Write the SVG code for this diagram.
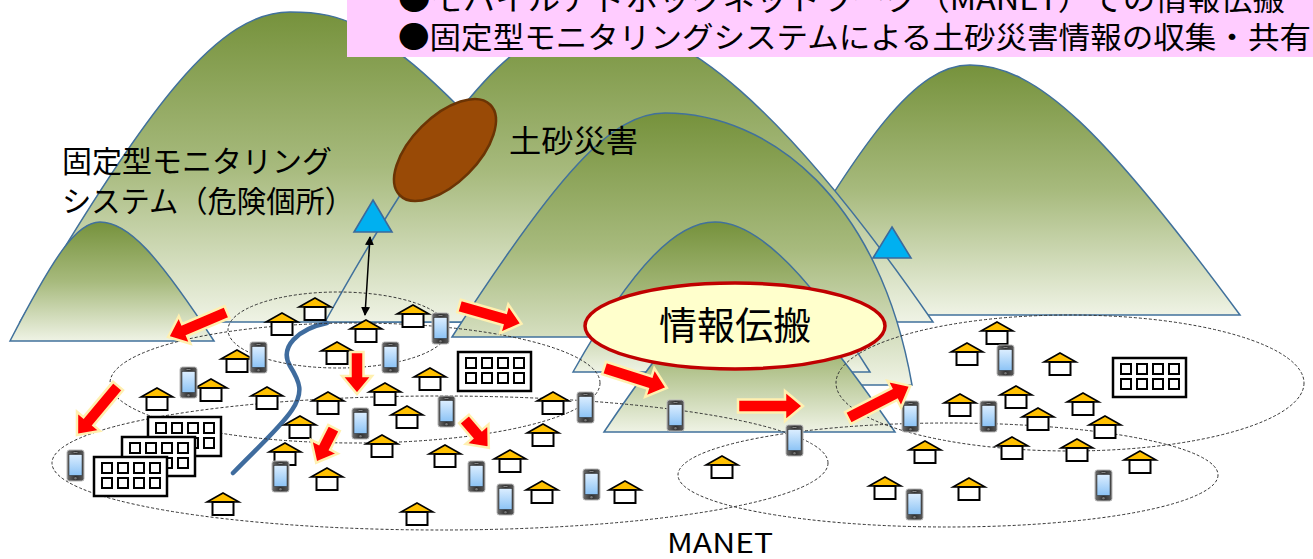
<svg xmlns="http://www.w3.org/2000/svg" xmlns:xlink="http://www.w3.org/1999/xlink" width="1313" height="559" viewBox="0 0 1313 559">
<defs>
<style>
.mtn{fill:url(#hill);stroke:#41719C;stroke-width:1.5}
.zone{fill:none;stroke:#333;stroke-width:1;stroke-dasharray:3 2}
.flow{fill:#FF0000;stroke:#FFF0B0;stroke-width:2.5;stroke-linejoin:miter}
.jp{font-family:"Noto Sans CJK JP","Noto Sans",sans-serif;fill:#000}
.sensor{fill:#00B0F0;stroke:#3B6A9C;stroke-width:1.6;stroke-linejoin:miter}
</style>
<linearGradient id="hill" x1="0" y1="0" x2="0" y2="1">
<stop offset="0" stop-color="#76923C"/>
<stop offset="0.5" stop-color="#A7BA7D"/>
<stop offset="1" stop-color="#EFF3E5"/>
</linearGradient>
<linearGradient id="phoneBody" x1="0" y1="0" x2="1" y2="0">
<stop offset="0" stop-color="#707070"/>
<stop offset="0.5" stop-color="#303030"/>
<stop offset="1" stop-color="#5a5a5a"/>
</linearGradient>
<linearGradient id="phoneScreen" x1="0" y1="0" x2="0" y2="1">
<stop offset="0" stop-color="#DCEEFF"/>
<stop offset="1" stop-color="#8CC3F5"/>
</linearGradient>
<marker id="tip" viewBox="0 0 10 10" refX="9" refY="5" markerWidth="6" markerHeight="6" orient="auto-start-reverse">
<path d="M0,0 L10,5 L0,10 Z" fill="#000"/>
</marker>
<g id="house">
<polygon points="0,0 16,9 -16,9" fill="#FFC000" stroke="#000" stroke-width="1.6"/>
<rect x="-10.5" y="9" width="21" height="13" fill="#fff" stroke="#000" stroke-width="2"/>
</g>
<g id="phone">
<rect x="0" y="0" width="17" height="31" rx="2.5" fill="url(#phoneBody)" stroke="#B8B8B8" stroke-width="1"/>
<rect x="2" y="4.5" width="13" height="21" fill="url(#phoneScreen)" stroke="#222" stroke-width="0.5"/>
<circle cx="8.5" cy="28.2" r="1.2" fill="#777"/>
<rect x="6.5" y="2" width="4" height="0.8" fill="#999"/>
</g>
<g id="bldg">
<rect x="0" y="0" width="73" height="39" fill="#fff" stroke="#000" stroke-width="2.5"/>
<g fill="#fff" stroke="#000" stroke-width="2">
<rect x="8" y="6" width="10" height="10"/><rect x="24" y="6" width="10" height="10"/><rect x="40" y="6" width="10" height="10"/><rect x="56" y="6" width="10" height="10"/>
<rect x="8" y="21" width="10" height="10"/><rect x="24" y="21" width="10" height="10"/><rect x="40" y="21" width="10" height="10"/><rect x="56" y="21" width="10" height="10"/>
</g>
</g>
</defs>

<rect width="1313" height="559" fill="#fff"/>

<!-- hills, back to front -->
<g id="mountains">
<path class="mtn" d="M20,322 C150,100 220,12 290,12 C320,12 338,16 360,27 C400,50 430,78 460,108 L620,322 Z"/>
<path class="mtn" d="M760,315 C865,132 917,65 970,65 C1037,65 1105,132 1240,315 Z"/>
<path class="mtn" d="M325,322 C480,43 540,22 600,22 C680,22 783,105 933,322 Z"/>
<path class="mtn" d="M10,341 C55,254 77,222 100,222 C128,222 157,254 214,341 Z"/>
<path class="mtn" d="M452,337 C558,173 612,113 665,113 C770,113 880,200 912,385 L700,385 L700,337 Z"/>
<path class="mtn" d="M573,372 C635,262 678,222 715,222 C754,222 805,268 870,372 Z"/>
<path class="mtn" d="M604,432 C676,325 712,285 748,285 C785,285 821,325 895,432 Z"/>
</g>

<!-- river -->
<path id="river" d="M327,323 C298,329 279,347 290,366 C300,382 304,392 292,410 C280,428 255,450 233,473" fill="none" stroke="#3F6C9E" stroke-width="4.5" stroke-linecap="round"/>

<!-- MANET coverage zones -->
<g id="zones">
<ellipse class="zone" cx="355" cy="383" rx="245" ry="60"/>
<ellipse class="zone" cx="338" cy="330" rx="110" ry="38"/>
<ellipse class="zone" cx="440" cy="463" rx="388" ry="67"/>
<ellipse class="zone" cx="1070" cy="383" rx="234" ry="68"/>
<ellipse class="zone" cx="948" cy="475" rx="270" ry="52"/>
</g>

<!-- landslide -->
<g id="landslide">
<ellipse cx="445" cy="150" rx="64" ry="33" transform="rotate(-45 445 150)" fill="#994A06" stroke="#6B3404" stroke-width="2.5"/>
</g>

<!-- monitoring stations -->
<g id="station-1"><polygon class="sensor" points="373,200 392,232 354,232"/></g>
<g id="station-2"><polygon class="sensor" points="892,227 911,258 873,258"/></g>

<!-- buildings -->
<g id="building-1"><use xlink:href="#bldg" x="148" y="417"/></g>
<g id="building-2"><use xlink:href="#bldg" x="122" y="437"/></g>
<g id="building-3"><use xlink:href="#bldg" x="94" y="457"/></g>
<g id="building-4"><use xlink:href="#bldg" x="458" y="352"/></g>
<g id="building-5"><use xlink:href="#bldg" x="1113" y="358"/></g>

<!-- houses -->
<g id="house-1"><use xlink:href="#house" x="315" y="298"/></g>
<g id="house-2"><use xlink:href="#house" x="282" y="313"/></g>
<g id="house-3"><use xlink:href="#house" x="413" y="305"/></g>
<g id="house-4"><use xlink:href="#house" x="366" y="320"/></g>
<g id="house-5"><use xlink:href="#house" x="337" y="342"/></g>
<g id="house-6"><use xlink:href="#house" x="237" y="350"/></g>
<g id="house-7"><use xlink:href="#house" x="211" y="379"/></g>
<g id="house-8"><use xlink:href="#house" x="157" y="388"/></g>
<g id="house-9"><use xlink:href="#house" x="267" y="387"/></g>
<g id="house-10"><use xlink:href="#house" x="328" y="392"/></g>
<g id="house-11"><use xlink:href="#house" x="385" y="383"/></g>
<g id="house-12"><use xlink:href="#house" x="430" y="368"/></g>
<g id="house-13"><use xlink:href="#house" x="407" y="406"/></g>
<g id="house-14"><use xlink:href="#house" x="300" y="416"/></g>
<g id="house-15"><use xlink:href="#house" x="285" y="443"/></g>
<g id="house-16"><use xlink:href="#house" x="223" y="493"/></g>
<g id="house-17"><use xlink:href="#house" x="382" y="435"/></g>
<g id="house-18"><use xlink:href="#house" x="327" y="468"/></g>
<g id="house-19"><use xlink:href="#house" x="445" y="445"/></g>
<g id="house-20"><use xlink:href="#house" x="510" y="450"/></g>
<g id="house-21"><use xlink:href="#house" x="543" y="424"/></g>
<g id="house-22"><use xlink:href="#house" x="553" y="392"/></g>
<g id="house-23"><use xlink:href="#house" x="542" y="481"/></g>
<g id="house-24"><use xlink:href="#house" x="625" y="481"/></g>
<g id="house-25"><use xlink:href="#house" x="417" y="503"/></g>
<g id="house-26"><use xlink:href="#house" x="722" y="456"/></g>
<g id="house-27"><use xlink:href="#house" x="997" y="322"/></g>
<g id="house-28"><use xlink:href="#house" x="967" y="343"/></g>
<g id="house-29"><use xlink:href="#house" x="1060" y="353"/></g>
<g id="house-30"><use xlink:href="#house" x="1016" y="386"/></g>
<g id="house-31"><use xlink:href="#house" x="960" y="394"/></g>
<g id="house-32"><use xlink:href="#house" x="1083" y="393"/></g>
<g id="house-33"><use xlink:href="#house" x="1038" y="408"/></g>
<g id="house-34"><use xlink:href="#house" x="1105" y="416"/></g>
<g id="house-35"><use xlink:href="#house" x="925" y="441"/></g>
<g id="house-36"><use xlink:href="#house" x="1012" y="437"/></g>
<g id="house-37"><use xlink:href="#house" x="1077" y="439"/></g>
<g id="house-38"><use xlink:href="#house" x="1140" y="451"/></g>
<g id="house-39"><use xlink:href="#house" x="885" y="477"/></g>
<g id="house-40"><use xlink:href="#house" x="969" y="478"/></g>

<!-- mobile terminals -->
<g id="phone-1"><use xlink:href="#phone" x="250" y="342"/></g>
<g id="phone-2"><use xlink:href="#phone" x="382" y="342"/></g>
<g id="phone-3"><use xlink:href="#phone" x="432" y="313"/></g>
<g id="phone-4"><use xlink:href="#phone" x="438" y="396"/></g>
<g id="phone-5"><use xlink:href="#phone" x="352" y="408"/></g>
<g id="phone-6"><use xlink:href="#phone" x="180" y="367"/></g>
<g id="phone-7"><use xlink:href="#phone" x="67" y="450"/></g>
<g id="phone-8"><use xlink:href="#phone" x="272" y="461"/></g>
<g id="phone-9"><use xlink:href="#phone" x="468" y="461"/></g>
<g id="phone-10"><use xlink:href="#phone" x="497" y="484"/></g>
<g id="phone-11"><use xlink:href="#phone" x="583" y="469"/></g>
<g id="phone-12"><use xlink:href="#phone" x="577" y="392"/></g>
<g id="phone-13"><use xlink:href="#phone" x="667" y="400"/></g>
<g id="phone-14"><use xlink:href="#phone" x="786" y="425"/></g>
<g id="phone-15"><use xlink:href="#phone" x="997" y="345"/></g>
<g id="phone-16"><use xlink:href="#phone" x="902" y="401"/></g>
<g id="phone-17"><use xlink:href="#phone" x="980" y="401"/></g>
<g id="phone-18"><use xlink:href="#phone" x="1095" y="470"/></g>
<g id="phone-19"><use xlink:href="#phone" x="906" y="489"/></g>

<!-- propagation arrows and sensor link -->
<g id="connectors">
<line x1="370" y1="237" x2="365" y2="315" stroke="#000" stroke-width="1.5" marker-start="url(#tip)" marker-end="url(#tip)"/>
<path class="flow" transform="translate(227,312) rotate(157)" d="M0,-6.5 L46,-6.5 L46,-15 L64,0 L46,15 L46,6.5 L0,6.5 Z"/>
<path class="flow" transform="translate(118,386) rotate(129.9)" d="M0,-6.5 L46,-6.5 L46,-15 L64,0 L46,15 L46,6.5 L0,6.5 Z"/>
<path class="flow" transform="translate(459,306) rotate(15.9)" d="M0,-6.5 L47,-6.5 L47,-15 L65,0 L47,15 L47,6.5 L0,6.5 Z"/>
<path class="flow" transform="translate(357,352) rotate(90)" d="M0,-6.5 L24,-6.5 L24,-15 L42,0 L24,15 L24,6.5 L0,6.5 Z"/>
<path class="flow" transform="translate(334,428) rotate(117.2)" d="M0,-6.5 L21,-6.5 L21,-15 L39,0 L21,15 L21,6.5 L0,6.5 Z"/>
<path class="flow" transform="translate(464,419) rotate(49.2)" d="M0,-6.5 L20,-6.5 L20,-15 L38,0 L20,15 L20,6.5 L0,6.5 Z"/>
<path class="flow" transform="translate(604,368) rotate(17.6)" d="M0,-6.5 L48,-6.5 L48,-15 L66,0 L48,15 L48,6.5 L0,6.5 Z"/>
<path class="flow" transform="translate(738,406)" d="M0,-6.5 L47,-6.5 L47,-15 L65,0 L47,15 L47,6.5 L0,6.5 Z"/>
<path class="flow" transform="translate(848,418) rotate(-27.3)" d="M0,-6.5 L52,-6.5 L52,-15 L70,0 L52,15 L52,6.5 L0,6.5 Z"/>
</g>

<!-- propagation callout -->
<g id="propagation-label">
<ellipse cx="735" cy="326" rx="150" ry="43" fill="#FFFFCC" stroke="#C00000" stroke-width="3.5"/>
<text class="jp" x="659" y="339" font-size="38" textLength="152" lengthAdjust="spacingAndGlyphs">情報伝搬</text>
</g>

<!-- labels -->
<g id="label-landslide"><text class="jp" x="509" y="152" font-size="31" textLength="129" lengthAdjust="spacingAndGlyphs">土砂災害</text></g>
<g id="label-monitoring">
<text class="jp" x="62" y="172" font-size="30" textLength="270" lengthAdjust="spacingAndGlyphs">固定型モニタリング</text>
<text class="jp" x="62" y="212" font-size="30" textLength="292" lengthAdjust="spacingAndGlyphs">システム（危険個所）</text>
</g>
<g id="label-manet"><text class="jp" x="667" y="553" font-size="27" textLength="106" lengthAdjust="spacingAndGlyphs">MANET</text></g>

<!-- headline banner -->
<g id="banner">
<rect x="347" y="-2" width="968" height="59" fill="#FFCCFF"/>
<text class="jp" x="398" y="10" font-size="30" textLength="887" lengthAdjust="spacingAndGlyphs">●モバイルアドホックネットワーク（MANET）での情報伝搬</text>
<text class="jp" x="398" y="48" font-size="30" textLength="913" lengthAdjust="spacingAndGlyphs">●固定型モニタリングシステムによる土砂災害情報の収集・共有</text>
</g>
</svg>
